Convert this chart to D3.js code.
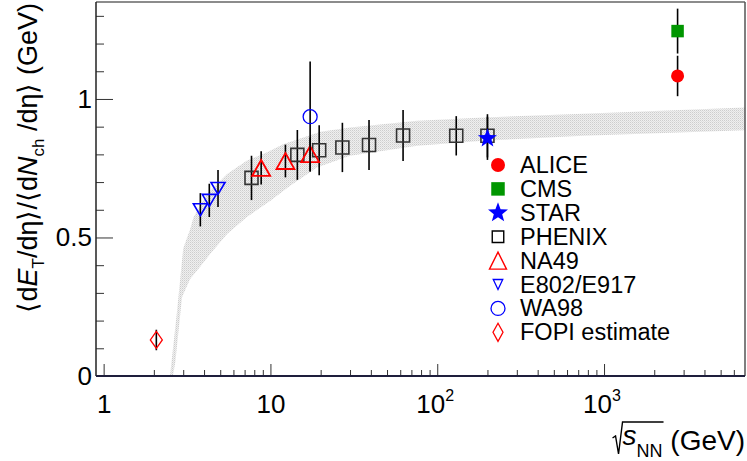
<!DOCTYPE html>
<html>
<head>
<meta charset="utf-8">
<script src="https://cdn.jsdelivr.net/npm/d3@7"></script>
<style>
  html, body { margin: 0; padding: 0; background: #fff; }
  svg { display: block; }
  text { font-family: "Liberation Sans", Arial, Helvetica, sans-serif; fill: #000; }
</style>
</head>
<body>
<svg id="chart" width="747" height="461"></svg>
<script>
// ---------------- data ----------------
const xDomain = [0.9, 7000];
const yDomain = [0, 1.35];
const xMajorTicks = [1, 10, 100, 1000];
const xTickLabels = [["1", ""], ["10", ""], ["10", "2"], ["10", "3"]];
const yMajorTicks = [0, 0.5, 1];
const yTickLabels = ["0", "0.5", "1"];

const aliceX = [2760], aliceY = [1.083], aliceErr = [0.073];
const cmsX = [2760], cmsY = [1.245], cmsErr = [0.081];
const starX = [200], starY = [0.858], starErr = [0.078];
const phenixX = [7.7, 14.5, 19.6, 27, 39, 62.4, 130, 200];
const phenixY = [0.715, 0.798, 0.815, 0.825, 0.834, 0.868, 0.867, 0.867];
const phenixErr = [0.08, 0.09, 0.09, 0.089, 0.09, 0.092, 0.071, 0.078];
const na49X = [8.8, 12.3, 17.3], na49Y = [0.751, 0.776, 0.801], na49Err = [0.06, 0.059, 0.06];
const e802X = [3.8, 4.3, 4.85], e802Y = [0.60, 0.634, 0.677], e802Err = [0.06, 0.06, 0.067];
const wa98X = [17.3], wa98Y = [0.936], wa98Err = [0.199];
const fopiX = [2.07], fopiY = [0.13], fopiErr = [0.037];

// model band: upper and lower edges
const bandUpperX = [2.5, 2.75, 3.0, 3.3, 3.46, 4.17, 5.5, 7.2, 9.5, 12, 20, 30, 76, 190, 750, 7000];
const bandUpperY = [0.0, 0.23, 0.46, 0.53, 0.573, 0.657, 0.729, 0.777, 0.807, 0.837, 0.882, 0.897, 0.921, 0.933, 0.947, 0.969];
const bandLowerX = [2.6, 2.69, 2.95, 3.3, 3.8, 4.36, 5.5, 7.2, 10, 13, 19, 30, 76, 190, 750, 7000];
const bandLowerY = [0.0, 0.05, 0.284, 0.35, 0.395, 0.441, 0.513, 0.573, 0.633, 0.685, 0.753, 0.795, 0.831, 0.849, 0.867, 0.887];

const legendLabels = ["ALICE", "CMS", "STAR", "PHENIX", "NA49", "E802/E917", "WA98", "FOPI estimate"];

// ---------------- layout ----------------
const L = 96, R = 745, T = 2, B = 376;
const svg = d3.select("#chart");
const x = d3.scaleLog().domain(xDomain).range([L, R]);
const y = d3.scaleLinear().domain(yDomain).range([B, T]);

const defs = svg.append("defs");
const pat = defs.append("pattern").attr("id", "dots")
  .attr("width", 2).attr("height", 2).attr("patternUnits", "userSpaceOnUse");
pat.append("rect").attr("width", 2).attr("height", 2).attr("fill", "#efefef");
pat.append("rect").attr("width", 1).attr("height", 1).attr("fill", "#cdcdcd");
pat.append("rect").attr("x", 1).attr("y", 1).attr("width", 1).attr("height", 1).attr("fill", "#dedede");
defs.append("clipPath").attr("id", "clip").append("rect")
  .attr("x", L).attr("y", T).attr("width", R - L).attr("height", B - T);

// band
const bandPts = bandUpperX.map((v, i) => [x(v), y(bandUpperY[i])])
  .concat(bandLowerX.map((v, i) => [x(v), y(bandLowerY[i])]).reverse());
svg.append("path").attr("clip-path", "url(#clip)")
  .attr("d", d3.line().curve(d3.curveLinearClosed)(bandPts))
  .attr("fill", "url(#dots)").attr("stroke", "none");

// ---------------- axes ----------------
const minorX = [];
[0.1, 1, 10, 100, 1000].forEach(d => { for (let k = 2; k <= 9; k++) { const v = d * k; if (v > xDomain[0] && v < xDomain[1] && !xMajorTicks.includes(v)) minorX.push(v); } });
const minorY = d3.range(0, 14).map(i => i / 10).filter(v => !yMajorTicks.some(m => Math.abs(m - v) < 1e-9));

const gx = svg.append("g").attr("transform", `translate(0,${B})`);
gx.call(d3.axisBottom(x).tickValues(minorX).tickSize(-6).tickFormat(""));
const gxMaj = svg.append("g").attr("transform", `translate(0,${B})`);
gxMaj.call(d3.axisBottom(x).tickValues(xMajorTicks).tickSize(-12).tickPadding(18.5).tickFormat((d, i) => ""));
[gx, gxMaj].forEach(g => { g.select(".domain").remove(); g.selectAll("line").attr("stroke", "#333").attr("stroke-width", 1); });
gxMaj.selectAll(".tick text").each(function(d, i) {
  const t = d3.select(this).attr("font-size", 26).attr("fill", "#000").attr("font-family", null);
  const lab = xTickLabels[i];
  if (lab[1]) {
    t.attr("text-anchor", "middle").attr("dx", "-0.1em");
    t.append("tspan").text(lab[0]);
    t.append("tspan").attr("font-size", 16).attr("dy", -12).text(lab[1]);
  } else {
    t.text(lab[0]);
  }
});

const gy = svg.append("g").attr("transform", `translate(${L},0)`);
gy.call(d3.axisLeft(y).tickValues(minorY).tickSize(-8).tickFormat(""));
const gyMaj = svg.append("g").attr("transform", `translate(${L},0)`);
gyMaj.call(d3.axisLeft(y).tickValues(yMajorTicks).tickSize(-17).tickPadding(4).tickFormat((d, i) => yTickLabels[i]));
[gy, gyMaj].forEach(g => { g.select(".domain").remove(); g.selectAll("line").attr("stroke", "#333").attr("stroke-width", 1); });
gyMaj.selectAll(".tick text").attr("font-size", 26).attr("font-family", null).attr("fill", "#000");

// frame
svg.append("line").attr("x1", L).attr("x2", R).attr("y1", T).attr("y2", T).attr("stroke", "#666").attr("stroke-width", 1.5);
svg.append("line").attr("x1", R).attr("x2", R).attr("y1", T).attr("y2", B).attr("stroke", "#555").attr("stroke-width", 1.5);
svg.append("line").attr("x1", L).attr("x2", L).attr("y1", T).attr("y2", B).attr("stroke", "#222").attr("stroke-width", 1.5);
svg.append("line").attr("x1", L).attr("x2", R).attr("y1", B).attr("y2", B).attr("stroke", "#1e1e3c").attr("stroke-width", 2);

// ---------------- markers ----------------
function markerPath(type, s) {
  if (type === "triUp") return `M0,${-s.h/2}L${s.w/2},${s.h/2}L${-s.w/2},${s.h/2}Z`;
  if (type === "triDown") return `M0,${s.h/2}L${s.w/2},${-s.h/2}L${-s.w/2},${-s.h/2}Z`;
  if (type === "diamond") return `M0,${-s.h/2}L${s.w/2},0L0,${s.h/2}L${-s.w/2},0Z`;
  if (type === "square") return `M${-s.w/2},${-s.w/2}h${s.w}v${s.w}h${-s.w}Z`;
  if (type === "circle") return `M${s.w/2},0A${s.w/2},${s.w/2} 0 1,1 ${-s.w/2},0A${s.w/2},${s.w/2} 0 1,1 ${s.w/2},0Z`;
  if (type === "star") {
    let p = "";
    for (let k = 0; k < 10; k++) {
      const r = k % 2 === 0 ? s.w / 2 : s.w / 2 * 0.42;
      const a = -Math.PI / 2 + k * Math.PI / 5;
      p += (k === 0 ? "M" : "L") + (r * Math.cos(a)).toFixed(2) + "," + (r * Math.sin(a)).toFixed(2);
    }
    return p + "Z";
  }
}

const styles = {
  ALICE:  { type: "circle", w: 13, color: "#ff0000", fill: true },
  CMS:    { type: "square", w: 12.5, color: "#009600", fill: true },
  STAR:   { type: "star", w: 20, color: "#0000ff", fill: true },
  PHENIX: { type: "square", w: 13, color: "#333", fill: false, sw: 1.6 },
  NA49:   { type: "triUp", w: 18, h: 16, color: "#ff0000", fill: false, sw: 1.8 },
  E802:   { type: "triDown", w: 14, h: 12, color: "#0000ff", fill: false, sw: 1.6 },
  WA98:   { type: "circle", w: 14, color: "#0000ff", fill: false, sw: 1.3 },
  FOPI:   { type: "diamond", w: 12, h: 17, color: "#ff0000", fill: false, sw: 1.3 }
};
const legendStyles = {
  ALICE:  { type: "circle", w: 14, color: "#ff0000", fill: true },
  CMS:    { type: "square", w: 13.5, color: "#009600", fill: true },
  STAR:   { type: "star", w: 21, color: "#0000ff", fill: true },
  PHENIX: { type: "square", w: 11.5, color: "#000", fill: false, sw: 1.4 },
  NA49:   { type: "triUp", w: 17, h: 17, color: "#ff0000", fill: false, sw: 1.4 },
  E802:   { type: "triDown", w: 9.5, h: 10, color: "#0000ff", fill: false, sw: 1.3 },
  WA98:   { type: "circle", w: 14, color: "#0000ff", fill: false, sw: 1.3 },
  FOPI:   { type: "diamond", w: 10, h: 18, color: "#ff0000", fill: false, sw: 1.3 }
};

function drawMarker(g, st, cx, cy) {
  g.append("path").attr("transform", `translate(${cx},${cy})`)
    .attr("d", markerPath(st.type, st))
    .attr("fill", st.fill ? st.color : "none")
    .attr("stroke", st.fill ? "none" : st.color)
    .attr("stroke-width", st.sw || 0);
}

function drawSeries(xs, ys, es, st) {
  const g = svg.append("g");
  g.selectAll("line.err").data(xs).join("line").attr("class", "err")
    .attr("x1", d => x(d)).attr("x2", d => x(d))
    .attr("y1", (d, i) => y(ys[i] - es[i])).attr("y2", (d, i) => y(ys[i] + es[i]))
    .attr("stroke", "#000").attr("stroke-width", 1.6);
  xs.forEach((d, i) => drawMarker(g, st, x(d), y(ys[i])));
}

drawSeries(phenixX, phenixY, phenixErr, styles.PHENIX);
drawSeries(na49X, na49Y, na49Err, styles.NA49);
drawSeries(e802X, e802Y, e802Err, styles.E802);
drawSeries(wa98X, wa98Y, wa98Err, styles.WA98);
drawSeries(fopiX, fopiY, fopiErr, styles.FOPI);
drawSeries(starX, starY, starErr, styles.STAR);
drawSeries(aliceX, aliceY, aliceErr, styles.ALICE);
drawSeries(cmsX, cmsY, cmsErr, styles.CMS);

// ---------------- legend ----------------
const legKeys = ["ALICE", "CMS", "STAR", "PHENIX", "NA49", "E802", "WA98", "FOPI"];
const leg = svg.append("g");
legendLabels.forEach((lab, i) => {
  const cy = 165 + i * 23.9;
  drawMarker(leg, legendStyles[legKeys[i]], 498, cy);
  leg.append("text").attr("x", 520).attr("y", cy + 8).attr("font-size", 23.5).text(lab);
});

// ---------------- axis titles ----------------
const yt = svg.append("text").attr("font-size", 27).attr("text-anchor", "end")
  .attr("transform", "translate(37,3) rotate(-90)");
yt.append("tspan").text("\u27E8d");
yt.append("tspan").attr("font-style", "italic").text("E");
yt.append("tspan").attr("font-size", 17).attr("dy", 7).text("T");
yt.append("tspan").attr("dy", -7).text("/d\u03B7\u27E9/\u27E8d");
yt.append("tspan").attr("font-style", "italic").text("N");
yt.append("tspan").attr("font-size", 17).attr("dy", 7).text("ch");
yt.append("tspan").attr("dy", -7).text(" /d\u03B7\u27E9 (GeV)");

const xt = svg.append("text").attr("font-size", 28).attr("text-anchor", "end")
  .attr("x", 745).attr("y", 450);
xt.append("tspan").attr("font-style", "italic").attr("dy", -5).text("s");
xt.append("tspan").attr("font-size", 18).attr("dy", 12).text("NN");
xt.append("tspan").attr("dy", -7).text(" (GeV)");
// radical sign
const node = xt.node();
const s0 = node.getExtentOfChar(0);
const nEnd = node.getExtentOfChar(2);
const xs0 = s0.x - 1, xe = nEnd.x + nEnd.width + 1;
const topY = 422;
svg.append("path")
  .attr("d", `M${xs0 - 9},${438}L${xs0 - 6},${436}L${xs0 - 3},${454}L${xs0 + 1},${topY}L${xe},${topY}`)
  .attr("fill", "none").attr("stroke", "#000").attr("stroke-width", 1.4);
</script>
</body>
</html>
